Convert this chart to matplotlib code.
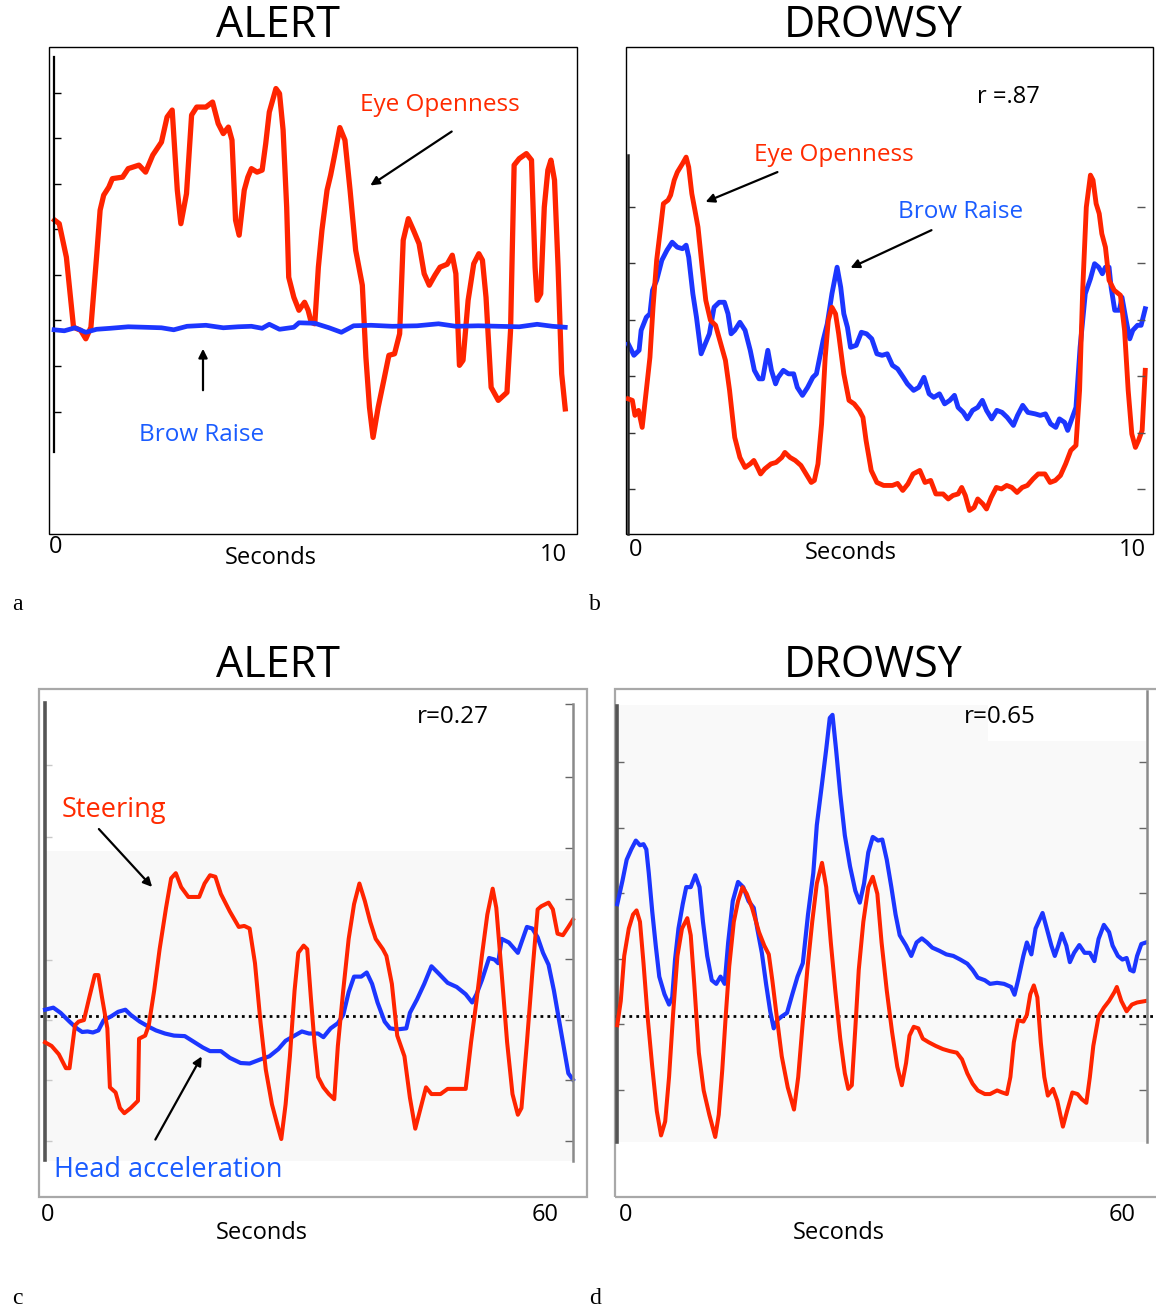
import matplotlib
matplotlib.use('Agg')
import matplotlib.pyplot as plt
from matplotlib.patches import Rectangle

plt.rcParams['font.family'] = ['Open Sans', 'DejaVu Sans']

W, H = 1156, 1310
RED = '#ff2400'
BLUE = '#1c36ff'
TXT_RED = '#ff2a00'
TXT_BLUE = '#1a5cff'

# ---- panel a : ALERT, 0-10 s ----
a_eye_t = [0.01, 0.10, 0.24, 0.38, 0.52, 0.62, 0.72, 0.83, 0.90, 0.97, 1.07, 1.14, 1.34, 1.45, 1.66,
           1.79, 1.93, 2.10, 2.21, 2.31, 2.41, 2.48, 2.59, 2.69, 2.79, 2.97, 3.10, 3.21, 3.31, 3.41,
           3.48, 3.55, 3.62, 3.72, 3.79, 3.86, 3.97, 4.07, 4.14, 4.21, 4.34, 4.41, 4.48, 4.55, 4.59,
           4.69, 4.79, 4.90, 4.97, 5.03, 5.10, 5.17, 5.24, 5.34, 5.41, 5.48, 5.59, 5.69, 5.79, 5.90,
           6.03, 6.10, 6.17, 6.24, 6.34, 6.45, 6.55, 6.66, 6.76, 6.83, 6.93, 7.03, 7.14, 7.24, 7.34,
           7.45, 7.55, 7.69, 7.79, 7.86, 7.93, 8.00, 8.10, 8.21, 8.31, 8.38, 8.45, 8.55, 8.69, 8.86,
           8.93, 9.00, 9.10, 9.24, 9.34, 9.41, 9.45, 9.52, 9.59, 9.66, 9.72, 9.79, 9.86, 9.93, 10.0]
a_eye_v = [62.7, 62.0, 55.3, 41.3, 40.7, 39.0, 41.3, 55.3, 64.7, 67.7, 69.3, 71.0, 71.3, 73.0, 73.7,
           72.3, 75.7, 78.3, 83.3, 84.7, 68.7, 62.0, 68.0, 83.7, 85.3, 85.3, 86.3, 82.0, 80.0, 81.3,
           78.7, 62.7, 59.7, 68.7, 71.3, 73.0, 72.3, 72.7, 78.0, 84.3, 89.0, 88.0, 80.7, 65.3, 51.3,
           47.3, 44.7, 46.3, 44.7, 42.3, 42.0, 53.3, 60.7, 68.7, 71.7, 75.3, 81.2, 78.7, 68.7, 56.7,
           49.7, 35.3, 25.3, 19.3, 25.3, 30.7, 35.7, 36.0, 40.0, 58.7, 63.0, 60.7, 58.0, 52.0, 49.7,
           51.7, 53.3, 53.9, 55.7, 52.0, 33.7, 34.7, 46.7, 54.0, 56.0, 54.7, 47.3, 29.3, 26.7, 28.3,
           40.7, 73.7, 75.0, 76.0, 74.7, 53.3, 46.7, 48.0, 65.3, 72.7, 74.7, 70.7, 53.3, 32.0, 25.0]
a_brow_t = [0.0, 0.20, 0.41, 0.62, 0.83, 1.10, 1.45, 1.79, 2.10, 2.34, 2.60, 2.97, 3.31, 3.60, 3.86,
            4.07, 4.21, 4.41, 4.69, 4.79, 5.10, 5.38, 5.62, 5.86, 6.20, 6.62, 7.10, 7.52, 7.86, 8.30,
            8.69, 9.10, 9.45, 9.75, 10.0]
a_brow_v = [40.8, 40.6, 41.2, 40.3, 40.9, 41.1, 41.4, 41.3, 41.2, 40.8, 41.5, 41.7, 41.2, 41.4, 41.5,
            41.1, 41.9, 40.9, 41.3, 42.2, 42.1, 41.2, 40.3, 41.6, 41.7, 41.5, 41.6, 42.0, 41.5, 41.6,
            41.5, 41.4, 41.9, 41.5, 41.3]

# ---- panel b : DROWSY, 0-10 s ----
b_eye_t = [0.0, 0.08, 0.13, 0.20, 0.27, 0.35, 0.42, 0.48, 0.55, 0.62, 0.68, 0.77, 0.82, 0.89, 0.95,
           1.05, 1.12, 1.17, 1.23, 1.29, 1.35, 1.43, 1.50, 1.59, 1.69, 1.79, 1.88, 1.96, 2.06, 2.16,
           2.26, 2.36, 2.43, 2.50, 2.56, 2.64, 2.76, 2.86, 2.97, 3.03, 3.13, 3.23, 3.34, 3.44, 3.54,
           3.60, 3.67, 3.74, 3.81, 3.87, 3.94, 4.01, 4.07, 4.17, 4.27, 4.37, 4.47, 4.54, 4.60, 4.70,
           4.81, 4.94, 5.11, 5.21, 5.31, 5.41, 5.51, 5.64, 5.74, 5.85, 5.95, 6.09, 6.19, 6.28, 6.38,
           6.45, 6.52, 6.60, 6.69, 6.76, 6.86, 6.93, 7.02, 7.12, 7.22, 7.32, 7.42, 7.52, 7.62, 7.72,
           7.83, 7.93, 8.06, 8.16, 8.26, 8.36, 8.46, 8.56, 8.66, 8.73, 8.79, 8.86, 8.94, 8.99, 9.05,
           9.11, 9.16, 9.23, 9.30, 9.40, 9.52, 9.60, 9.67, 9.74, 9.81, 9.87, 9.94, 10.0]
b_eye_v = [27.0, 26.7, 23.7, 24.7, 21.3, 28.7, 35.3, 45.3, 54.7, 60.7, 66.0, 66.7, 67.7, 70.7, 72.3,
           74.0, 75.3, 73.3, 68.0, 64.7, 61.3, 53.3, 46.7, 42.7, 41.7, 38.0, 34.7, 28.7, 19.3, 15.3,
           13.3, 14.0, 14.7, 13.3, 12.0, 13.0, 14.0, 14.3, 15.3, 16.3, 15.3, 14.7, 13.7, 12.0, 10.3,
           10.7, 14.0, 22.0, 35.3, 42.7, 45.3, 44.0, 40.0, 32.0, 26.7, 26.0, 24.7, 23.3, 18.7, 12.7,
           10.3, 9.7, 9.7, 10.1, 8.7, 10.0, 12.0, 12.7, 10.3, 10.7, 8.0, 8.0, 7.0, 7.7, 8.0,
           9.3, 7.7, 4.7, 5.3, 7.0, 6.0, 5.0, 7.3, 9.3, 9.0, 9.7, 9.3, 8.3, 9.3, 9.7,
           11.0, 12.0, 12.0, 10.3, 10.7, 11.7, 14.0, 16.7, 17.7, 28.7, 48.7, 65.3, 71.7, 70.7, 66.0,
           64.0, 60.0, 57.3, 50.7, 48.7, 47.7, 40.7, 28.7, 20.0, 17.3, 18.7, 20.7, 32.7]
b_brow_t = [0.0, 0.11, 0.21, 0.25, 0.35, 0.42, 0.47, 0.55, 0.65, 0.75, 0.85, 0.95, 1.05, 1.12, 1.17,
            1.25, 1.32, 1.41, 1.49, 1.57, 1.66, 1.76, 1.86, 1.93, 1.99, 2.06, 2.16, 2.26, 2.36, 2.44,
            2.53, 2.60, 2.70, 2.77, 2.85, 2.90, 3.00, 3.10, 3.20, 3.27, 3.37, 3.47, 3.57, 3.64, 3.77,
            3.85, 3.94, 4.04, 4.11, 4.17, 4.24, 4.30, 4.41, 4.51, 4.61, 4.71, 4.81, 4.91, 5.01, 5.11,
            5.21, 5.32, 5.40, 5.52, 5.62, 5.72, 5.82, 5.91, 6.02, 6.12, 6.22, 6.31, 6.38, 6.48, 6.56,
            6.66, 6.76, 6.85, 6.93, 7.03, 7.13, 7.23, 7.33, 7.45, 7.53, 7.63, 7.73, 7.87, 7.97, 8.07,
            8.17, 8.27, 8.34, 8.44, 8.50, 8.59, 8.66, 8.74, 8.84, 8.94, 9.02, 9.10, 9.17, 9.23, 9.30,
            9.34, 9.41, 9.50, 9.55, 9.63, 9.70, 9.76, 9.85, 9.92, 10.0]
b_brow_v = [38.0, 35.7, 36.7, 40.7, 43.3, 44.0, 48.7, 50.7, 54.7, 56.7, 58.3, 57.3, 57.0, 57.7, 55.3,
            48.0, 43.3, 36.0, 38.0, 40.0, 45.3, 46.3, 46.3, 44.0, 40.0, 40.7, 42.3, 40.7, 36.7, 32.7,
            31.0, 31.0, 36.7, 32.7, 30.0, 31.3, 32.7, 32.0, 32.0, 29.3, 27.7, 29.3, 31.3, 32.0, 38.7,
            42.0, 48.0, 53.3, 49.3, 44.0, 41.3, 37.3, 37.7, 40.3, 40.0, 39.0, 36.0, 35.7, 36.0, 33.7,
            33.0, 31.3, 30.0, 28.7, 29.3, 31.3, 28.0, 27.3, 28.0, 26.0, 26.7, 27.7, 25.3, 24.3, 23.0,
            24.7, 25.3, 26.7, 24.7, 23.0, 24.7, 24.3, 23.3, 21.7, 23.7, 25.7, 24.3, 24.0, 23.7, 24.0,
            22.0, 21.3, 23.0, 22.3, 20.7, 23.3, 25.3, 37.3, 48.0, 51.0, 54.0, 53.3, 52.0, 53.3, 53.3,
            49.3, 44.7, 44.7, 47.3, 42.7, 39.0, 40.7, 41.7, 41.7, 45.0]

# ---- panel c : ALERT, 0-60 s ----
c_steer_t = [0.0, 0.74, 1.56, 2.37, 2.78, 3.40, 3.81, 4.42, 5.03, 5.65, 6.06, 6.47, 7.08, 7.37, 8.02,
             8.51, 9.01, 9.74, 10.56, 10.68, 11.38, 11.79, 12.40, 13.02, 13.75, 14.33, 14.86, 15.47,
             16.29, 17.52, 18.13, 18.75, 19.36, 19.98, 21.0, 22.02, 22.64, 23.25, 23.86, 24.48, 25.09,
             25.79, 26.52, 26.85, 27.34, 27.83, 28.36, 28.78, 29.39, 29.8, 30.21, 30.62, 31.03, 31.64,
             32.26, 32.87, 33.28, 33.89, 34.51, 35.12, 35.73, 36.35, 36.96, 37.58, 38.40, 38.8, 39.42,
             40.03, 40.85, 41.47, 42.08, 42.69, 43.3, 43.92, 44.95, 45.76, 46.58, 47.81, 48.42, 49.04,
             49.65, 50.27, 50.88, 51.29, 51.9, 52.52, 53.13, 53.74, 54.15, 54.77, 55.38, 55.99, 56.4,
             57.23, 57.72, 58.25, 58.86, 59.48, 60.0]
c_steer_v = [30.0, 29.3, 27.7, 25.0, 25.0, 33.3, 34.0, 34.3, 38.7, 43.0, 43.0, 38.7, 32.7, 21.3, 20.3,
             17.3, 16.3, 17.3, 18.7, 30.7, 31.3, 33.3, 40.0, 48.0, 56.0, 61.7, 62.7, 60.0,
             58.1, 58.1, 60.7, 62.3, 62.0, 58.7, 55.3, 52.3, 52.5, 52.0, 45.3, 34.0, 24.7,
             18.0, 13.3, 11.3, 18.0, 27.3, 40.0, 47.3, 48.7, 48.0, 38.7, 30.0, 23.3, 21.3,
             20.0, 19.0, 29.3, 40.0, 50.0, 56.7, 60.7, 57.3, 53.3, 50.0, 48.0, 46.7, 41.3,
             31.3, 27.3, 19.3, 13.3, 17.3, 21.3, 20.0, 20.0, 21.0, 21.0, 21.0, 30.0, 38.0,
             46.7, 54.7, 59.7, 56.0, 43.3, 30.0, 20.0, 16.0, 17.3, 30.0, 43.3, 55.7, 56.3,
             57.0, 55.7, 51.0, 50.7, 52.3, 53.7]
c_head_t = [0.0, 0.94, 1.76, 2.78, 3.60, 4.22, 4.83, 5.44, 6.06, 6.67, 7.49, 8.31, 9.13, 9.74, 10.77,
            11.79, 12.61, 13.63, 14.65, 15.88, 16.91, 17.93, 18.75, 19.98, 21.0, 22.23, 23.25, 24.48,
            25.5, 26.52, 27.34, 28.36, 29.19, 30.0, 31.03, 31.64, 32.46, 33.28, 33.89, 34.51, 35.12,
            35.94, 36.56, 37.17, 37.79, 38.6, 39.21, 40.03, 41.06, 41.47, 42.28, 43.10, 43.92, 44.74,
            45.76, 46.79, 47.81, 48.55, 49.04, 49.65, 50.47, 51.09, 51.5, 51.9, 52.72, 53.74, 54.15,
            54.77, 55.38, 55.99, 56.6, 57.23, 57.84, 58.45, 59.07, 59.48, 60.0]
c_head_v = [36.3, 36.7, 35.7, 34.0, 32.7, 32.0, 32.1, 31.9, 32.3, 34.3, 35.0, 35.9, 36.3, 35.3, 34.0,
            33.0, 32.3, 31.7, 31.3, 31.2, 30.1, 29.0, 28.3, 28.3, 27.0, 26.0, 25.9, 26.7,
            27.3, 28.7, 30.3, 31.3, 32.1, 31.7, 31.7, 31.0, 32.7, 33.7, 35.3, 39.7, 42.7,
            42.7, 43.5, 41.3, 37.7, 34.0, 32.7, 32.5, 32.7, 35.7, 38.3, 41.3, 44.7, 43.3,
            41.5, 40.7, 39.3, 37.7, 39.3, 42.0, 46.3, 46.0, 45.3, 50.0, 49.3, 47.3, 49.3,
            52.3, 52.0, 50.3, 47.3, 45.0, 40.0, 34.0, 28.0, 24.0, 22.8]
c_zero = 35.0

# ---- panel d : DROWSY, 0-60 s ----
d_head_t = [0.0, 0.6, 1.07, 1.59, 2.11, 2.58, 2.98, 3.30, 3.58, 3.97, 4.37, 4.77, 5.36, 5.88, 6.24,
            6.56, 6.95, 7.43, 7.83, 8.34, 8.86, 9.34, 9.73, 10.21, 10.73, 11.24, 11.72, 12.19, 12.59,
            13.11, 13.71, 14.3, 14.9, 15.49, 15.89, 16.41, 16.89, 17.36, 17.76, 18.16, 18.67, 19.27,
            19.87, 20.46, 21.06, 21.65, 22.25, 22.65, 23.24, 23.72, 24.12, 24.43, 24.83, 25.31, 25.83,
            26.42, 27.02, 27.53, 28.01, 28.49, 29.0, 29.6, 30.08, 30.59, 31.11, 31.59, 32.06, 32.78,
            33.37, 33.97, 34.57, 35.16, 35.76, 36.55, 37.35, 38.14, 38.93, 39.73, 40.33, 40.92, 41.72,
            42.31, 43.11, 43.9, 44.7, 45.09, 45.49, 46.09, 46.49, 47.0, 47.48, 48.27, 48.75, 49.27,
            49.66, 50.06, 50.46, 50.97, 51.37, 51.85, 52.44, 53.04, 53.64, 54.15, 54.63, 55.23, 55.82,
            56.22, 56.82, 57.33, 57.81, 58.21, 58.6, 59.0, 59.48, 60.0]
d_head_v = [56.7, 61.3, 65.3, 67.3, 69.0, 68.1, 68.3, 67.3, 62.7, 55.3, 48.7, 42.7, 39.3, 37.3, 38.7,
            46.0, 52.0, 56.7, 60.0, 60.0, 62.3, 60.0, 53.3, 46.7, 42.0, 41.3, 42.7, 41.3, 49.3,
            57.3, 61.0, 60.0, 57.3, 56.0, 52.0, 47.3, 41.3, 36.0, 32.7, 34.3, 35.0, 35.7,
            39.3, 42.7, 45.3, 54.7, 62.7, 72.0, 80.0, 86.7, 92.7, 93.3, 86.7, 78.0, 70.0,
            64.0, 59.3, 57.0, 60.7, 66.7, 69.7, 69.0, 69.2, 65.3, 60.0, 54.7, 50.7, 48.7,
            46.7, 49.3, 50.1, 49.3, 48.3, 47.7, 47.0, 46.7, 46.0, 45.2, 44.0, 42.5, 42.0,
            41.3, 41.5, 41.3, 40.7, 39.2, 42.0, 46.7, 49.3, 47.0, 52.0, 55.0, 52.0, 48.7,
            46.7, 48.7, 51.0, 48.7, 45.5, 47.3, 48.8, 47.3, 47.3, 45.7, 50.0, 52.7, 51.3,
            48.7, 46.7, 46.0, 46.3, 44.0, 43.7, 46.7, 49.0, 49.3]
d_steer_t = [0.0, 0.40, 0.79, 1.31, 1.79, 2.19, 2.58, 2.98, 3.46, 3.97, 4.49, 4.97, 5.44, 5.88, 6.36,
             6.83, 7.35, 7.95, 8.34, 8.74, 9.26, 9.81, 10.45, 11.12, 11.52, 11.92, 12.32, 12.71, 13.23,
             13.71, 14.22, 14.7, 15.3, 16.09, 16.69, 17.2, 17.6, 18.08, 18.67, 19.35, 20.06, 20.54,
             21.06, 21.57, 22.13, 22.65, 23.24, 23.72, 24.24, 24.75, 25.31, 25.83, 26.22, 26.62, 27.02,
             27.41, 27.93, 28.49, 29.0, 29.52, 30.0, 30.59, 31.19, 31.78, 32.3, 32.78, 33.17, 33.65,
             34.17, 34.68, 35.36, 36.15, 36.95, 37.74, 38.54, 39.13, 39.73, 40.33, 40.92, 41.72, 42.31,
             43.11, 43.7, 44.22, 44.62, 45.01, 45.49, 46.09, 46.49, 46.88, 47.28, 47.68, 48.07, 48.47,
             48.87, 49.46, 49.94, 50.58, 51.05, 51.65, 52.25, 52.72, 53.24, 53.64, 54.03, 54.63, 55.23,
             55.82, 56.42, 56.7, 57.21, 57.81, 58.41, 59.0, 60.0]
d_steer_v = [33.3, 38.0, 46.7, 52.0, 54.7, 55.5, 53.3, 45.3, 34.7, 25.3, 16.7, 12.0, 14.7, 23.3, 36.0,
             46.7, 52.0, 54.0, 50.7, 41.3, 28.0, 20.7, 16.0, 11.7, 16.0, 24.7, 35.3, 44.7, 53.3,
             57.3, 60.0, 58.7, 56.0, 51.3, 48.7, 47.0, 42.0, 35.3, 27.3, 21.3, 17.0, 23.3,
             34.0, 44.0, 53.3, 60.7, 64.7, 60.0, 49.3, 40.0, 30.7, 24.0, 21.0, 21.7, 32.7,
             44.0, 53.3, 60.0, 62.0, 58.7, 49.3, 40.0, 32.0, 25.3, 21.7, 26.0, 31.3, 33.0,
             32.7, 30.7, 30.0, 29.3, 28.7, 28.3, 28.0, 26.7, 24.0, 22.0, 20.7, 20.0, 20.0,
             20.7, 20.3, 20.0, 23.3, 30.0, 34.3, 34.0, 35.3, 39.3, 41.0, 38.7, 30.0, 23.3,
             19.7, 21.0, 18.7, 13.7, 16.7, 20.3, 20.0, 19.0, 18.3, 23.3, 29.3, 35.0, 36.7,
             38.0, 39.7, 40.7, 38.0, 36.0, 37.3, 37.7, 38.0]
d_zero = 35.0

fig = plt.figure(figsize=(W / 100, H / 100), dpi=100)


def fp(x, y):
    return (x / W, 1 - y / H)


def panel(x0, y0, x1, y1, xlim, ylim, edge, elw):
    ax = fig.add_axes([x0 / W, 1 - y1 / H, (x1 - x0) / W, (y1 - y0) / H])
    ax.set_xlim(xlim)
    ax.set_ylim(ylim)
    ax.patch.set_alpha(0)
    for s in ['top', 'right', 'bottom']:
        ax.spines[s].set_visible(False)
    ax.set_xticks([])
    ax.add_patch(Rectangle((0, 0), 1, 1, transform=ax.transAxes, fill=False,
                           ec=edge, lw=elw, clip_on=False, zorder=0))
    return ax


def left_axis(ax, x, lo, hi, ticks, color, lw, tcolor):
    ax.spines['left'].set_position(('data', x))
    ax.spines['left'].set_bounds(lo, hi)
    ax.spines['left'].set_color(color)
    ax.spines['left'].set_linewidth(lw)
    ax.set_yticks(ticks)
    ax.tick_params(axis='y', direction='in', length=5, width=1, color=tcolor, labelleft=False)


def right_axis(ax, x, lo, hi, ticks, color, lw, tcolor):
    tw = ax.twinx()
    tw.set_ylim(ax.get_ylim())
    tw.patch.set_visible(False)
    for s in ['top', 'left', 'bottom']:
        tw.spines[s].set_visible(False)
    tw.spines['right'].set_position(('data', x))
    tw.spines['right'].set_bounds(lo, hi)
    tw.spines['right'].set_color(color)
    tw.spines['right'].set_linewidth(lw)
    tw.set_yticks(ticks)
    tw.tick_params(axis='y', direction='in', length=6, width=1, color=tcolor, labelright=False)
    return tw


def txt(x, y, s, size, color='black', **kw):
    fig.text(x / W, 1 - y / H, s, fontsize=size, color=color, ha='center', va='center', **kw)


def arrow(x0, y0, x1, y1):
    fig.add_artist(matplotlib.patches.FancyArrowPatch(
        fp(x0, y0), fp(x1, y1), transform=fig.transFigure, arrowstyle='-|>',
        mutation_scale=13, color='black', lw=1.6))


# panel a
ax = panel(49, 47, 577, 534, (-0.1, 10.23), (0, 97.3), 'black', 1.0)
left_axis(ax, 0, 16.3, 95.3, [24.3, 33.5, 42.7, 51.7, 60.9, 69.9, 79.1, 88.1], 'black', 1.6, 'black')
ax.plot(a_eye_t, a_eye_v, color=RED, lw=3.8, solid_joinstyle='round', zorder=2)
ax.plot(a_brow_t, a_brow_v, color=BLUE, lw=3.4, zorder=3)

# panel b
ax = panel(626, 47, 1153, 534, (-0.043, 10.15), (0, 97.3), 'black', 1.0)
bt = [8.9, 20.2, 31.5, 42.8, 54.1, 65.4]
left_axis(ax, 0, 0, 75.7, bt, '#222222', 1.8, '#333333')
right_axis(ax, 10, 0, 75.7, bt, 'none', 1, '#555555')
ax.plot(b_brow_t, b_brow_v, color=BLUE, lw=3.5, zorder=2)
ax.plot(b_eye_t, b_eye_v, color=RED, lw=3.5, zorder=3)

# panel c
ax = panel(39, 689, 587, 1197, (-0.69, 61.6), (0.1, 98.3), '#a8a8a8', 1.6)
ax.add_patch(Rectangle((0, 7.1), 60, 59.9, color='#f8f8f8', lw=0, zorder=0))
left_axis(ax, 0, 7.3, 95.6, [11.0, 22.7, 34.3, 46.0, 69.7, 83.7], '#555555', 2.6, '#c8c8c8')
right_axis(ax, 60, 7.1, 95.4, [10.9, 22.7, 34.3, 46.1, 57.7, 67.5, 81.3, 95.4], '#8a8a8a', 1.8, '#666666')
ax.hlines(c_zero, -0.55, 59.4, color='black', lw=2, linestyles=(0, (1, 1.5)), zorder=2)
ax.plot(c_head_t, c_head_v, color=BLUE, lw=3.0, zorder=3)
ax.plot(c_steer_t, c_steer_v, color=RED, lw=2.9, zorder=4)

# panel d
ax = panel(615, 689, 1160, 1197, (-0.255, 61.6), (0.1, 98.3), '#a8a8a8', 1.6)
ax.add_patch(Rectangle((0, 10.7), 60, 84.5, color='#f9f9f9', lw=0, zorder=0))
ax.add_patch(Rectangle((42.1, 88.2), 18.0, 7.0, color='white', lw=0, zorder=0))
dt = [20.8, 33.5, 46.1, 58.8, 71.4, 84.2]
left_axis(ax, 0, 10.7, 95.0, dt, '#555555', 2.6, '#666666')
right_axis(ax, 60.15, 10.7, 98.0, dt, '#8a8a8a', 1.8, '#666666')
ax.hlines(d_zero, -0.2, 61.6, color='black', lw=2, linestyles=(0, (1, 1.5)), zorder=2, clip_on=False)
ax.plot(d_head_t, d_head_v, color=BLUE, lw=3.0, zorder=3)
ax.plot(d_steer_t, d_steer_v, color=RED, lw=2.9, zorder=4)

# titles and labels
for x, y, s in [(278, 26, 'ALERT'), (873, 26, 'DROWSY'), (278, 666, 'ALERT'), (873, 666, 'DROWSY')]:
    txt(x, y, s, 31)

txt(440, 105, 'Eye Openness', 17.5, TXT_RED)
txt(202, 435, 'Brow Raise', 17.5, TXT_BLUE)
txt(1008, 97, 'r =.87', 17)
txt(834, 155, 'Eye Openness', 17.5, TXT_RED)
txt(961, 212, 'Brow Raise', 17.5, TXT_BLUE)
txt(453, 717, 'r=0.27', 17.5)
txt(1000, 717, 'r=0.65', 17.5)
txt(114, 810, 'Steering', 19.5, TXT_RED)
txt(168, 1170, 'Head acceleration', 19.5, TXT_BLUE)

arrow(454, 130, 368, 187)
arrow(203, 393, 203, 346)
arrow(780, 171, 703, 203)
arrow(934, 229, 848, 269)
arrow(97, 827, 154, 889)
arrow(154, 1142, 203, 1054)

for x, y, s in [(56, 547, '0'), (553, 555, '10'), (271, 558, 'Seconds'),
                (636, 550, '0'), (1132, 550, '10'), (851, 553, 'Seconds'),
                (48, 1215, '0'), (545, 1215, '60'), (262, 1233, 'Seconds'),
                (626, 1215, '0'), (1122, 1215, '60'), (839, 1233, 'Seconds')]:
    txt(x, y, s, 17)

for x, y, s in [(17, 604, 'a'), (595, 604, 'b'), (17, 1299, 'c'), (595, 1299, 'd')]:
    txt(x, y, s, 17, family=['Liberation Serif', 'DejaVu Serif'])

fig.savefig('out.png', dpi=100)
